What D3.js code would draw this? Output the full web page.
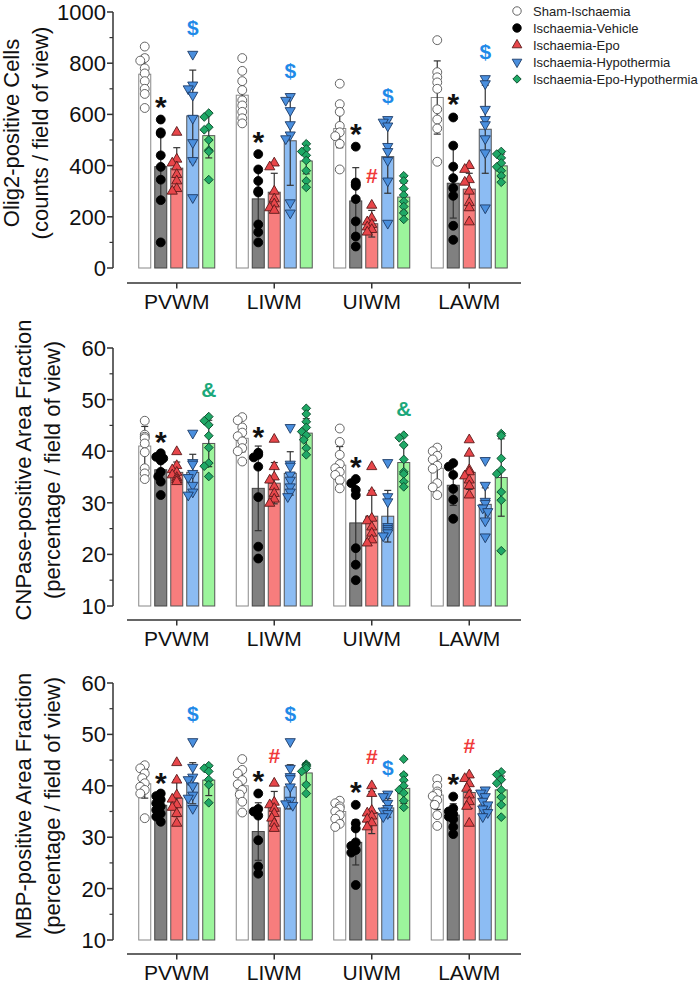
<!DOCTYPE html>
<html>
<head>
<meta charset="utf-8">
<script src="https://cdn.jsdelivr.net/npm/d3@7"></script>
<style>
  html, body { margin: 0; padding: 0; background: #ffffff; }
  svg { display: block; }
</style>
</head>
<body>
<svg id="chart" width="700" height="984"></svg>
<script>
// ---------------- DATA ----------------
const categories = ["PVWM", "LIWM", "UIWM", "LAWM"];
const groups = ["Sham-Ischaemia", "Ischaemia-Vehicle", "Ischaemia-Epo", "Ischaemia-Hypothermia", "Ischaemia-Epo-Hypothermia"];

// Olig2-positive cells (counts / field of view): mean, SD, individual points per category x group
const olig2Mean = [[757, 396, 390, 594, 517], [675, 270, 296, 497, 418], [545, 262, 173, 435, 277], [666, 331, 308, 542, 399]];
const olig2SD   = [[74, 130, 80, 179, 87], [65, 110, 74, 174, 50], [75, 130, 52, 143, 55], [143, 136, 62, 172, 46]];
const olig2Points = [
  [[865, 820, 810, 780, 760, 730, 700, 680, 625], [580, 530, 525, 440, 395, 345, 265, 100], [530, 425, 410, 395, 365, 340, 310, 300], [835, 715, 700, 675, 585, 490, 420, 275], [605, 590, 550, 540, 500, 460, 455, 345]],
  [[820, 770, 730, 695, 655, 635, 610, 585, 565], [445, 385, 340, 300, 295, 170, 140, 100], [410, 395, 300, 270, 250, 235, 225], [670, 655, 615, 560, 520, 505, 255, 215], [485, 465, 455, 440, 420, 380, 340, 315]],
  [[720, 640, 610, 555, 530, 515, 485, 385], [474, 334, 327, 321, 269, 182, 123, 84], [245, 195, 180, 170, 160, 150, 140], [580, 570, 555, 475, 455, 420, 340, 175], [360, 340, 310, 285, 260, 240, 215, 190]],
  [[890, 765, 745, 725, 700, 620, 580, 545, 415], [588, 478, 396, 351, 312, 282, 165, 110], [400, 385, 345, 335, 300, 255, 235, 180], [740, 720, 620, 580, 560, 505, 450, 235], [455, 445, 430, 410, 395, 380, 360, 335]]
];
const olig2Marks = [["PVWM", 1, "*", 656], ["PVWM", 3, "$", 941], ["LIWM", 1, "*", 520], ["LIWM", 3, "$", 773], ["UIWM", 1, "*", 552], ["UIWM", 2, "#", 363], ["UIWM", 3, "$", 676], ["LAWM", 1, "*", 669], ["LAWM", 3, "$", 845]];

// CNPase-positive area fraction (percentage / field of view)
const cnpMean = [[41.0, 36.4, 35.9, 35.9, 41.5], [42.5, 32.8, 33.8, 35.7, 43.5], [37.3, 26.1, 27.4, 27.4, 37.8], [36.7, 33.4, 35.9, 29.7, 34.9]];
const cnpSD   = [[3.8, 2.5, 2.0, 3.5, 4.5], [2.6, 8.2, 4.0, 4.2, 2.8], [3.6, 8.0, 5.0, 5.0, 3.5], [2.8, 3.9, 3.3, 3.2, 7.5]];
const cnpPoints = [
  [[45.9, 43.2, 42.8, 42.5, 41.5, 39.8, 36.7, 35.7, 34.6], [39.6, 38.9, 38.6, 38.2, 36.0, 35.1, 34.1, 31.5], [39.9, 37.2, 36.4, 35.9, 35.4, 34.9, 34.5, 34.1], [43.5, 37.8, 37.5, 35.7, 34.9, 33.4, 32.1, 31.5], [46.7, 45.9, 45.1, 43.0, 40.7, 37.7, 37.1, 35.1]],
  [[46.6, 46.0, 44.6, 43.6, 42.9, 41.9, 40.6, 40.0, 38.0], [39.7, 39.3, 38.8, 37.0, 31.1, 21.5, 19.2], [42.3, 37.0, 35.0, 34.4, 33.1, 31.8, 30.7, 29.9], [44.6, 37.5, 37.1, 35.4, 34.4, 33.1, 32.1, 31.2], [48.3, 47.2, 45.7, 44.6, 43.8, 43.1, 42.2, 40.6, 39.3]],
  [[44.4, 41.8, 39.3, 37.5, 36.7, 36.0, 35.4, 34.4, 32.8], [34.6, 33.8, 32.5, 31.5, 21.2, 18.0, 15.0], [37.0, 32.0, 27.0, 26.5, 25.3, 24.1, 22.8, 22.2], [37.8, 31.2, 30.2, 25.4, 25.0, 24.6, 24.2, 23.6], [43.1, 42.6, 41.2, 38.4, 36.0, 35.6, 34.1, 33.1]],
  [[40.7, 40.0, 39.1, 38.4, 37.2, 36.6, 33.8, 33.0, 31.5], [37.7, 37.0, 35.4, 32.7, 30.6, 26.9], [42.2, 39.6, 36.4, 36.0, 35.2, 34.4, 33.3, 31.5], [38.2, 33.4, 30.3, 29.9, 29.0, 28.3, 26.5, 23.4], [43.4, 43.0, 38.6, 36.4, 35.6, 32.1, 30.5, 20.7]]
];
const cnpMarks = [["PVWM", 1, "*", 43.3], ["PVWM", 4, "&", 52.0], ["LIWM", 1, "*", 44.2], ["UIWM", 1, "*", 38.3], ["UIWM", 4, "&", 48.3]];

// MBP-positive area fraction (percentage / field of view)
const mbpMean = [[40.4, 36.2, 37.6, 40.5, 41.1], [40.0, 31.1, 35.7, 39.8, 42.5], [35.0, 29.0, 34.8, 35.7, 39.5], [38.2, 34.3, 38.7, 36.3, 39.2]];
const mbpSD   = [[2.8, 1.8, 3.6, 4.0, 3.0], [3.2, 5.6, 3.2, 4.3, 2.0], [1.7, 4.4, 4.1, 1.8, 2.9], [2.8, 2.2, 3.1, 1.7, 2.7]];
const mbpPoints = [
  [[44.0, 43.4, 42.4, 41.5, 40.5, 39.8, 39.2, 38.5, 33.7], [38.5, 38.0, 37.3, 36.6, 36.0, 35.3, 34.6, 34.0, 33.0], [44.5, 41.1, 38.2, 37.4, 36.3, 35.8, 34.6, 32.7], [48.6, 43.6, 41.7, 41.2, 40.0, 38.2, 37.6, 35.6], [43.9, 43.4, 42.8, 41.2, 40.2, 36.7]],
  [[45.2, 43.1, 42.4, 41.1, 40.3, 39.2, 38.3, 36.9, 34.8], [38.5, 35.5, 35.0, 34.2, 29.4, 24.3, 22.9], [40.5, 36.8, 36.3, 35.6, 34.6, 33.7, 32.7, 31.7], [48.6, 43.4, 41.8, 41.4, 39.8, 37.2, 36.5, 36.2], [44.2, 44.0, 43.8, 43.4, 42.8, 40.2, 38.5]],
  [[37.1, 36.6, 36.0, 35.6, 35.0, 34.3, 33.6, 32.6, 32.0], [36.3, 32.7, 31.7, 29.0, 28.3, 27.5, 27.0, 20.7], [40.0, 38.5, 35.2, 34.7, 34.1, 33.5, 32.8, 32.0], [38.4, 37.9, 36.6, 35.6, 35.1, 34.6, 34.0], [45.2, 42.1, 41.1, 40.0, 39.2, 38.6, 37.1, 35.8]],
  [[41.3, 40.0, 38.9, 38.5, 38.0, 37.2, 36.3, 34.3, 32.2], [37.9, 35.6, 35.0, 34.5, 34.0, 33.5, 32.0, 30.6], [42.1, 41.4, 40.4, 39.5, 38.2, 36.9, 36.0, 32.7], [39.2, 38.6, 37.9, 37.0, 36.3, 35.5, 34.8, 34.0], [42.7, 42.2, 41.2, 40.5, 39.2, 37.8, 36.3, 33.9]]
];
const mbpMarks = [["PVWM", 1, "*", 42.0], ["PVWM", 3, "$", 54.1], ["LIWM", 1, "*", 42.4], ["LIWM", 2, "#", 46.0], ["LIWM", 3, "$", 54.1], ["UIWM", 1, "*", 40.2], ["UIWM", 2, "#", 45.7], ["UIWM", 3, "$", 43.6], ["LAWM", 1, "*", 41.8], ["LAWM", 2, "#", 47.9]];

// Axis definitions
const olig2Ticks = [0, 200, 400, 600, 800, 1000];
const olig2Minor = [100, 300, 500, 700, 900];
const pctTicks = [10, 20, 30, 40, 50, 60];
const pctMinor = [15, 25, 35, 45, 55];

// ---------------- STYLE ----------------
const FONT = "Arial, 'Liberation Sans', Helvetica, sans-serif";
const barFill = ["#ffffff", "#808080", "#f77d7d", "#8cbcf3", "#9cf59c"];
const barStroke = ["#888888", "#444444", "#555555", "#555555", "#555555"];
const markFill = ["#ffffff", "#000000", "#e8464a", "#4a8fde", "#1fa866"];
const markStroke = ["#555555", "#000000", "#5a1a1a", "#1d3b66", "#0f4d2e"];
const symColor = { "*": "#111111", "$": "#1f8ae8", "#": "#f03a3a", "&": "#1ba87a" };

const svg = d3.select("#chart");

const x = d3.scaleBand().domain(categories).range([128, 518]).paddingInner(0).paddingOuter(0);
const xg = d3.scaleBand().domain(d3.range(groups.length)).range([-40, 40]).paddingInner(0.25).paddingOuter(0.125);

function markerPath(gi, size) {
  if (gi === 0 || gi === 1) return d3.symbol().type(d3.symbolCircle).size(size)();
  if (gi === 2 || gi === 3) return d3.symbol().type(d3.symbolTriangle).size(size * 0.72)();
  return d3.symbol().type(d3.symbolSquare).size(size * 0.62)();
}
function markerRotate(gi) {
  if (gi === 3) return 180;
  if (gi === 4) return 45;
  return 0;
}

const panels = [
  { mean: olig2Mean, sd: olig2SD, pts: olig2Points, marks: olig2Marks, domain: [0, 1000], ticks: olig2Ticks, minor: olig2Minor,
    top: 12, bottom: 268, xAxisY: 283, titles: ["Olig2-positive Cells", "(counts / field of view)"], tx: [19, 47.5], tcy: 133 },
  { mean: cnpMean, sd: cnpSD, pts: cnpPoints, marks: cnpMarks, domain: [10, 60], ticks: pctTicks, minor: pctMinor,
    top: 348, bottom: 606, xAxisY: 620, titles: ["CNPase-positive Area Fraction", "(percentage / field of view)"], tx: [31, 59.5], tcy: 470 },
  { mean: mbpMean, sd: mbpSD, pts: mbpPoints, marks: mbpMarks, domain: [10, 60], ticks: pctTicks, minor: pctMinor,
    top: 683, bottom: 940, xAxisY: 954, titles: ["MBP-positive Area Fraction", "(percentage / field of view)"], tx: [31, 59.5], tcy: 806 }
];

const axisX = 113;

panels.forEach(p => {
  const y = d3.scaleLinear().domain(p.domain).range([p.bottom, p.top]);
  const g = svg.append("g");

  // Bars
  categories.forEach((cat, ci) => {
    const cx = x(cat) + x.bandwidth() / 2;
    groups.forEach((grp, gi) => {
      const bx = cx + xg(gi);
      const m = p.mean[ci][gi];
      g.append("rect")
        .attr("x", bx).attr("y", y(m))
        .attr("width", xg.bandwidth()).attr("height", y(p.domain[0]) - y(m))
        .attr("fill", barFill[gi]).attr("stroke", barStroke[gi]).attr("stroke-width", 1);
    });
  });

  // Error bars (mean ± SD)
  categories.forEach((cat, ci) => {
    const cx = x(cat) + x.bandwidth() / 2;
    groups.forEach((grp, gi) => {
      const c = cx + xg(gi) + xg.bandwidth() / 2;
      const m = p.mean[ci][gi], s = p.sd[ci][gi];
      const y1 = y(Math.max(p.domain[0], m - s)), y2 = y(m + s);
      const col = "#333333";
      g.append("line").attr("x1", c).attr("x2", c).attr("y1", y1).attr("y2", y2)
        .attr("stroke", col).attr("stroke-width", 1.2);
      g.append("line").attr("x1", c - 3.5).attr("x2", c + 3.5).attr("y1", y2).attr("y2", y2)
        .attr("stroke", col).attr("stroke-width", 1.2);
      if (m - s > p.domain[0]) {
        g.append("line").attr("x1", c - 3.5).attr("x2", c + 3.5).attr("y1", y1).attr("y2", y1)
          .attr("stroke", col).attr("stroke-width", 1.2);
      }
    });
  });

  // Points with deterministic small horizontal spreading to avoid overlap
  categories.forEach((cat, ci) => {
    const cx = x(cat) + x.bandwidth() / 2;
    groups.forEach((grp, gi) => {
      const c = cx + xg(gi) + xg.bandwidth() / 2;
      const vals = p.pts[ci][gi].slice().sort((a, b) => b - a);
      const placed = [];
      const offs = [0, -2.5, 2.5, -4.5, 4.5];
      vals.forEach(v => {
        const py = y(v);
        let best = 0;
        for (const o of offs) {
          const ok = placed.every(q => Math.hypot(q[0] - o, q[1] - py) >= 5);
          if (ok) { best = o; break; }
        }
        placed.push([best, py]);
        g.append("path")
          .attr("d", markerPath(gi, 62))
          .attr("transform", `translate(${c + best},${py}) rotate(${markerRotate(gi)})`)
          .attr("fill", markFill[gi]).attr("stroke", markStroke[gi]).attr("stroke-width", 0.9);
      });
    });
  });

  // Significance marks
  p.marks.forEach(([cat, gi, sym, val]) => {
    const c = x(cat) + x.bandwidth() / 2 + xg(gi) + xg.bandwidth() / 2;
    const fs = sym === "*" ? 30 : 21;
    const shift = sym === "*" ? 0.58 * fs : 0.36 * fs;
    g.append("text").attr("x", c).attr("y", y(val) + shift)
      .attr("text-anchor", "middle").attr("font-family", FONT).attr("font-weight", "bold")
      .attr("font-size", fs).attr("fill", symColor[sym]).text(sym);
  });

  // Y axis
  const ax = svg.append("g");
  ax.append("line").attr("x1", axisX).attr("x2", axisX).attr("y1", y(p.domain[1])).attr("y2", y(p.domain[0]))
    .attr("stroke", "#333").attr("stroke-width", 1.5);
  p.ticks.forEach(t => {
    ax.append("line").attr("x1", axisX - 6).attr("x2", axisX).attr("y1", y(t)).attr("y2", y(t))
      .attr("stroke", "#333").attr("stroke-width", 1.5);
    ax.append("text").attr("x", axisX - 7).attr("y", y(t)).attr("dy", "0.36em")
      .attr("text-anchor", "end").attr("font-family", FONT).attr("font-size", 22).attr("fill", "#111").text(t);
  });
  p.minor.forEach(t => {
    ax.append("line").attr("x1", axisX - 3.5).attr("x2", axisX).attr("y1", y(t)).attr("y2", y(t))
      .attr("stroke", "#333").attr("stroke-width", 1.2);
  });

  // X axis (offset line)
  ax.append("line").attr("x1", 127).attr("x2", 521).attr("y1", p.xAxisY).attr("y2", p.xAxisY)
    .attr("stroke", "#333").attr("stroke-width", 1.5);
  categories.forEach(cat => {
    const cx = x(cat) + x.bandwidth() / 2;
    ax.append("line").attr("x1", cx).attr("x2", cx).attr("y1", p.xAxisY).attr("y2", p.xAxisY + 5.5)
      .attr("stroke", "#333").attr("stroke-width", 1.5);
    ax.append("text").attr("x", cx).attr("y", p.xAxisY + 25.5).attr("text-anchor", "middle")
      .attr("font-family", FONT).attr("font-size", 21).attr("fill", "#111").text(cat);
  });

  // Y titles
  p.titles.forEach((t, i) => {
    ax.append("text").attr("transform", `translate(${p.tx[i]},${p.tcy}) rotate(-90)`)
      .attr("text-anchor", "middle").attr("font-family", FONT).attr("font-size", 22).attr("fill", "#111").text(t);
  });
});

// Legend
const lg = svg.append("g");
groups.forEach((grp, gi) => {
  const ly = 11 + gi * 17;
  lg.append("path").attr("d", markerPath(gi, 56))
    .attr("transform", `translate(517,${ly}) rotate(${markerRotate(gi)})`)
    .attr("fill", markFill[gi]).attr("stroke", markStroke[gi]).attr("stroke-width", 0.9);
  lg.append("text").attr("x", 533).attr("y", ly).attr("dy", "0.36em")
    .attr("font-family", FONT).attr("font-size", 13).attr("fill", "#222").text(grp);
});
</script>
</body>
</html>
